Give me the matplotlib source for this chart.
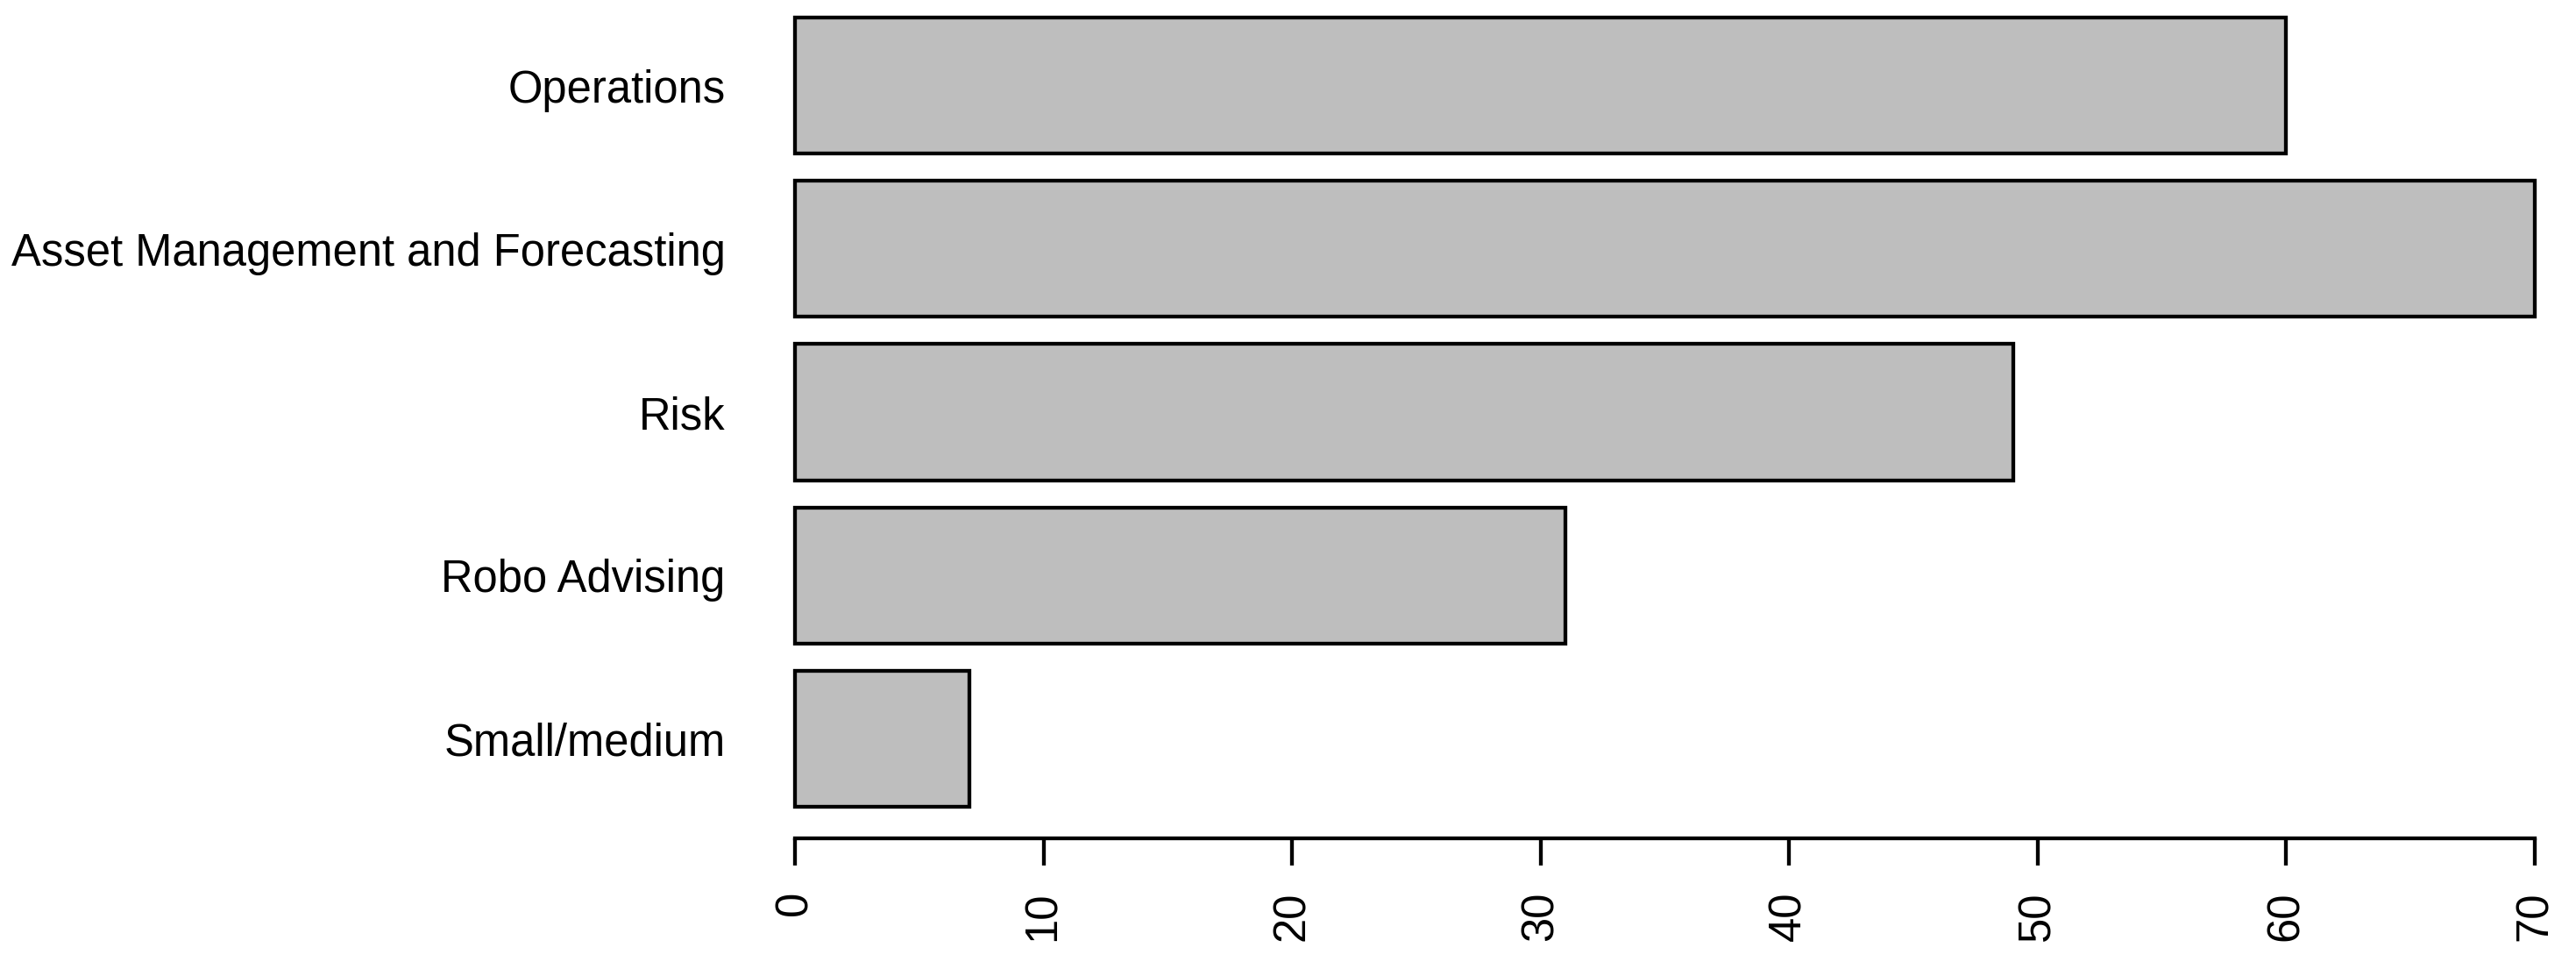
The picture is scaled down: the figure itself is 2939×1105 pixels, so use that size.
import numpy as np
import matplotlib
matplotlib.use("Agg")
import matplotlib.pyplot as plt

# bottom to top, as barplot(horiz=TRUE) stacks them
categories = ["Small/medium", "Robo Advising", "Risk",
              "Asset Management and Forecasting", "Operations"]
counts = [7, 31, 49, 70, 60]
xticks = [0, 10, 20, 30, 40, 50, 60, 70]

plt.rcParams['font.family'] = ['Liberation Sans', 'DejaVu Sans']

W, H = 2939, 1105
fig = plt.figure(figsize=(W / 100, H / 100), dpi=100)

# plot region in pixels, R style with 4% padding (partly off the canvas)
x0_px, x1_px = 827.6, 2971.4
y0_px, y1_px = 956, -16
ax = fig.add_axes([x0_px / W, 1 - y0_px / H, (x1_px - x0_px) / W, (y0_px - y1_px) / H])

ind = 0.2 + 1.2 * np.arange(len(categories)) + 0.5
ax.barh(ind, counts, height=1.0, color='#BEBEBE', edgecolor='black',
        linewidth=3.1, clip_on=False)

ax.set_xlim(-2.8, 72.8)
ax.set_ylim(-0.032, 6.232)

for s in ['top', 'right', 'left']:
    ax.spines[s].set_visible(False)
ax.spines['bottom'].set_bounds(0, 70)
ax.spines['bottom'].set_linewidth(3.1)

ax.set_xticks(xticks)
ax.set_xticklabels([str(t) for t in xticks], rotation=90, fontsize=36.5)
ax.tick_params(axis='x', length=22.3, width=3.1, pad=21)

ax.set_yticks(ind)
ax.set_yticklabels(categories, fontsize=36.5)
ax.tick_params(axis='y', length=0, pad=0)

ax.patch.set_visible(False)
fig.savefig('out.png', dpi=100)
